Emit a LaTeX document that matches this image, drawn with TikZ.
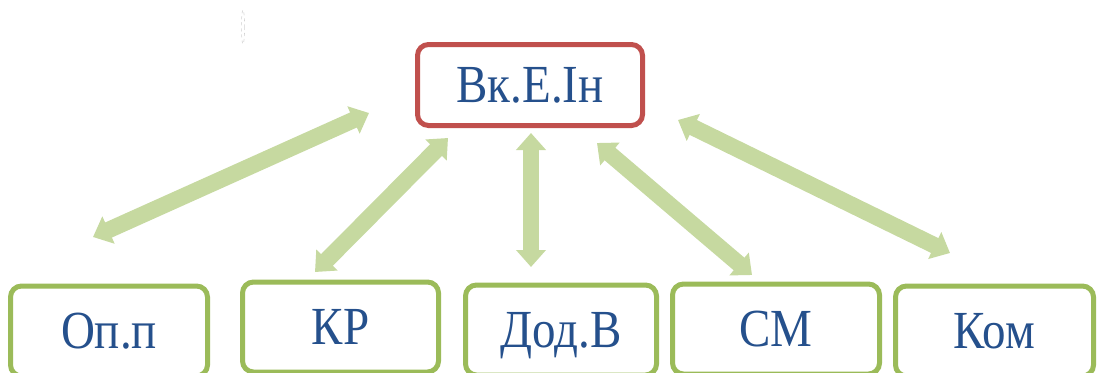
\documentclass[tikz,border=0pt]{standalone}
\usepackage{fontspec}
\setmainfont{Liberation Serif}
\usetikzlibrary{arrows.meta}
\definecolor{boxred}{HTML}{C0504D}
\definecolor{boxgreen}{HTML}{9BBB59}
\definecolor{arrowgreen}{HTML}{C6D9A0}
\definecolor{labelblue}{HTML}{25508C}
\newcommand{\tallword}[1]{\scalebox{1}[1.14]{#1}}
\begin{document}
\begin{tikzpicture}[x=1pt,y=-1pt,
  box/.style={draw, rounded corners=11pt, line width=5pt, fill=white,
    text=labelblue, font=\fontsize{47}{50}\selectfont,
    text height=35pt, text depth=0pt, inner sep=0pt},
  hub/.style={box, draw=boxred, minimum width=225pt, minimum height=81pt},
  leaf/.style={box, draw=boxgreen, minimum height=90pt},
  link/.style={draw=arrowgreen, line width=16.5pt, line cap=butt,
    {Triangle[width=29pt,length=17pt]}-{Triangle[width=29pt,length=17pt]}}]
\useasboundingbox (0,0) rectangle (1097,372);
\clip (0,0) rectangle (1097,372);

% central box
\node[hub] (hub) at (530,85) {\tallword{Вк.Е.Ін}};

% lower boxes
\node[leaf, minimum width=197pt] (op) at (109,331) {\tallword{Оп.п}};
\node[leaf, minimum width=196pt] (kr) at (340.5,327) {\tallword{КР}};
\node[leaf, minimum width=191pt] (dod) at (561,330) {\tallword{Дод.В}};
\node[leaf, minimum width=207pt] (sm) at (776,329) {\tallword{СМ}};
\node[leaf, minimum width=198pt] (kom) at (994.5,331) {\tallword{Ком}};

% arrow end points
\coordinate (opEnd)   at (93,237);
\coordinate (opHub)   at (369,113);
\coordinate (krEnd)   at (315,272);
\coordinate (krHub)   at (448,138);
\coordinate (dodHub)  at (531,133);
\coordinate (dodEnd)  at (531,267);
\coordinate (smHub)   at (597,143);
\coordinate (smEnd)   at (752,275);
\coordinate (komHub)  at (678,120);
\coordinate (komEnd)  at (950,253);

% two-way links
\draw[link] (opEnd) -- (opHub);
\draw[link] (krEnd) -- (krHub);
\draw[link] (dodHub) -- (dodEnd);
\draw[link] (smHub) -- (smEnd);
\draw[link] (komHub) -- (komEnd);

% small faint mark
\draw[gray!35, line width=0.6pt, dashed] (243,27) ellipse [x radius=1.6, y radius=17];
\end{tikzpicture}
\end{document}
